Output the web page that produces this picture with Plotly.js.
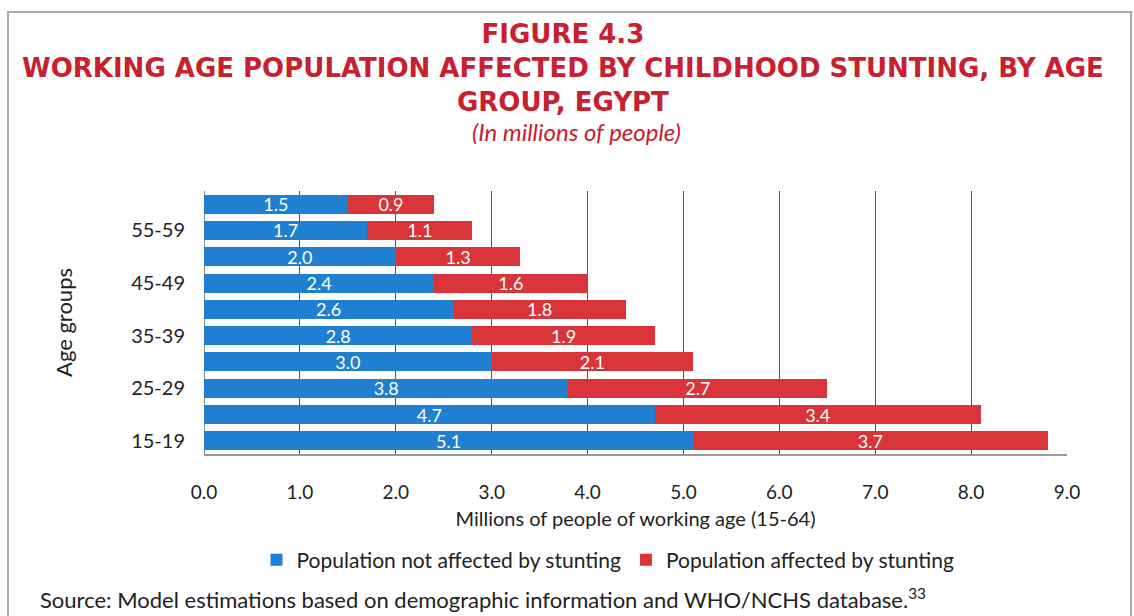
<!DOCTYPE html>
<html><head><meta charset="utf-8">
<script src="https://cdn.plot.ly/plotly-3.0.1.min.js"></script>
<style>html,body{margin:0;padding:0;background:#fff;}#chart{width:1134px;height:616px;}</style>
</head><body><div id="chart"></div>
<script>
const ageGroups = ["15-19","20-24","25-29","30-34","35-39","40-44","45-49","50-54","55-59","60-64"];
const labelledGroups = ["15-19","25-29","35-39","45-49","55-59"];
const notAffected = [5.1,4.7,3.8,3.0,2.8,2.6,2.4,2.0,1.7,1.5];
const affected = [3.7,3.4,2.7,2.1,1.9,1.8,1.6,1.3,1.1,0.9];
const xTicks = [0,1,2,3,4,5,6,7,8,9];
const xTickLabels = ["0.0","1.0","2.0","3.0","4.0","5.0","6.0","7.0","8.0","9.0"];

const FONT = "Lato, 'Open Sans', sans-serif";
const TFONT = "'DejaVu Sans', 'Open Sans', sans-serif";
const RED = "#c8202f";

const traces = [
  {type:'bar', orientation:'h', name:'Population not affected by stunting', y:ageGroups, x:notAffected,
   marker:{color:'#1f80d2'}, text:notAffected.map(v=>v.toFixed(1)), textposition:'inside', insidetextanchor:'middle',
   constraintext:'none', cliponaxis:false,
   textfont:{color:'#fff', size:18, family:FONT}, hoverinfo:'x'},
  {type:'bar', orientation:'h', name:'Population affected by stunting', y:ageGroups, x:affected,
   marker:{color:'#d8343a'}, text:affected.map(v=>v.toFixed(1)), textposition:'inside', insidetextanchor:'middle',
   constraintext:'none', cliponaxis:false,
   textfont:{color:'#fff', size:18, family:FONT}, hoverinfo:'x'}
];

const layout = {
  width:1134, height:616,
  margin:{l:204, r:67, t:191, b:162},
  paper_bgcolor:'#fff', plot_bgcolor:'#fff',
  barmode:'stack', bargap:0.28,
  font:{family:FONT, color:'#222'},
  showlegend:true,
  legend:{orientation:'h', x:0.47, xanchor:'center', y:0, yanchor:'middle',
    font:{size:21, family:FONT, color:'#222'}, traceorder:'normal'},
  xaxis:{range:[0,9], tickvals:xTicks, ticktext:xTickLabels, showgrid:true, gridcolor:'#555', gridwidth:1,
    zeroline:true, zerolinecolor:'#888', showline:true, linecolor:'#999', linewidth:2,
    ticks:'outside', ticklen:20, tickcolor:'rgba(0,0,0,0)',
    tickfont:{size:19, family:FONT, color:'#222'},
    title:{text:'Millions of people of working age (15-64)', font:{size:20, family:FONT, color:'#222'}, standoff:10}},
  yaxis:{type:'category', categoryorder:'array', categoryarray:ageGroups, tickvals:labelledGroups, ticktext:labelledGroups,
    showgrid:false, ticks:'outside', ticklen:14, tickcolor:'rgba(0,0,0,0)',
    tickfont:{size:20, family:FONT, color:'#222'},
    title:{text:'Age groups', font:{size:22, family:FONT, color:'#222'}, standoff:52}},
  annotations:[
    {text:'<b>FIGURE 4.3</b><br><b>WORKING AGE POPULATION AFFECTED BY CHILDHOOD STUNTING, BY AGE</b><br><b>GROUP, EGYPT</b>',
     xref:'paper', yref:'paper', x:0, y:0, xanchor:'center', yanchor:'middle', align:'center', showarrow:false,
     font:{size:26, color:RED, family:TFONT}},
    {text:'<i>(In millions of people)</i>', xref:'paper', yref:'paper', x:0, y:0, xanchor:'center', yanchor:'middle', showarrow:false,
     font:{size:24, color:RED, family:FONT}},
    {text:'Source: Model estimations based on demographic information and WHO/NCHS database.<sup>33</sup>', xref:'paper', yref:'paper', x:0, y:0, xanchor:'left', yanchor:'middle', showarrow:false,
     font:{size:22, color:'#222', family:FONT}}
  ],
  shapes:[]
};

// convert pixel positions to paper coords
const plotL = 204, plotW = 1134-204-67, plotT = 191, plotH = 616-191-162;
function px(xp){return (xp-plotL)/plotW;}
function py(yp){return (plotT+plotH-yp)/plotH;}
layout.annotations[0].x = px(563); layout.annotations[0].y = py(68);
layout.annotations[1].x = px(576); layout.annotations[1].y = py(131);
layout.annotations[2].x = px(38); layout.annotations[2].y = py(598);
layout.legend.x = px(608); layout.legend.y = py(560);
// frame border
layout.shapes.push({type:'path', xref:'paper', yref:'paper',
  path:`M ${px(8)} ${py(616)} L ${px(8)} ${py(12)} L ${px(1131)} ${py(12)} L ${px(1131)} ${py(616)}`,
  line:{color:'#aaa', width:2}});

Plotly.newPlot('chart', traces, layout, {displayModeBar:false, staticPlot:true});
</script></body></html>
